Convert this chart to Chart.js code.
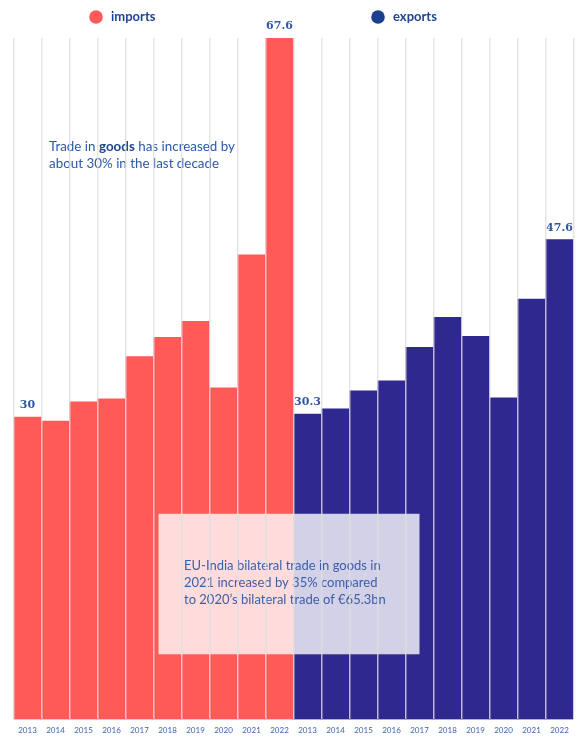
<!DOCTYPE html>
<html>
<head>
<meta charset="utf-8">
<script src="https://cdn.jsdelivr.net/npm/chart.js@4.4.1/dist/chart.umd.min.js"></script>
<style>
html,body{margin:0;padding:0;background:#fff;}
#wrap{width:581px;height:738px;position:relative;}
</style>
</head>
<body>
<div id="wrap"><canvas id="c" width="581" height="738"></canvas></div>
<script>
const years = ['2013','2014','2015','2016','2017','2018','2019','2020','2021','2022'];
const imports = [30, 29.6, 31.5, 31.8, 36.0, 37.9, 39.5, 32.9, 46.1, 67.6];
const exports = [30.3, 30.8, 32.6, 33.6, 36.9, 39.9, 38.0, 31.9, 41.7, 47.6];
const seriesNames = ['imports', 'exports'];
const note1 = [['Trade in ', false], ['goods', true], [' has increased by', false]];
const note1b = 'about 30% in the last decade';
const note2 = ['EU-India bilateral trade in goods in', '2021 increased by 35% compared', 'to 2020\u2019s bilateral trade of \u20ac65.3bn'];

const labels = years.concat(years);
const importsData = imports.concat(years.map(() => null));
const exportsData = years.map(() => null).concat(exports);

const RED = '#ff5a57';
const BLUE = '#2f288e';
const TXT = '#2d58a8';

const overlay = {
  id: 'overlay',
  afterDatasetsDraw(chart) {
    const ctx = chart.ctx;
    const x = chart.scales.x, y = chart.scales.y;
    ctx.save();
    ctx.font = 'bold 11px "DejaVu Serif"';
    ctx.fillStyle = TXT;
    ctx.textAlign = 'center';
    ctx.textBaseline = 'bottom';
    const lab = (di, idx, txt) => {
      const el = chart.getDatasetMeta(di).data[idx];
      ctx.fillText(txt, el.x, el.y - 6);
    };
    lab(0, 0, String(imports[0]));
    lab(0, 9, String(imports[9]));
    lab(1, 10, String(exports[0]));
    lab(1, 19, String(exports[9]));

    ctx.textAlign = 'left';
    ctx.textBaseline = 'middle';
    let nx = 49;
    const ny = y.getPixelForValue(56.86);
    note1.forEach(([t, b]) => {
      ctx.font = (b ? 'bold ' : '') + '13.4px Lato';
      ctx.fillStyle = b ? '#1d4594' : TXT;
      ctx.fillText(t, nx, ny);
      nx += ctx.measureText(t).width;
    });
    ctx.font = '13.4px Lato';
    ctx.fillStyle = TXT;
    ctx.fillText(note1b, 49, ny + 17);

    const bx0 = x.getPixelForValue(5) - 14 + 5;
    const bx1 = x.getPixelForValue(14) + 14 - 14;
    const by0 = y.getPixelForValue(20.4);
    const by1 = y.getPixelForValue(6.46);
    ctx.fillStyle = 'rgba(255,255,255,0.79)';
    ctx.fillRect(bx0, by0, bx1 - bx0, by1 - by0);
    ctx.font = '13px Lato';
    ctx.fillStyle = '#3a5ea8';
    note2.forEach((t, i) => ctx.fillText(t, 184, y.getPixelForValue(15.2) + i * 17));

    const leg = [[96, RED], [378, '#1d3f8f']];
    leg.forEach(([lx, col], i) => {
      ctx.beginPath();
      ctx.arc(lx, 17, 6.8, 0, Math.PI * 2);
      ctx.fillStyle = col;
      ctx.fill();
      ctx.font = 'bold 13px Lato';
      ctx.fillStyle = '#1d4594';
      ctx.fillText(seriesNames[i], lx + 15, 17);
    });
    ctx.restore();
  }
};

new Chart(document.getElementById('c'), {
  type: 'bar',
  data: {
    labels: labels,
    datasets: [
      { label: seriesNames[0], data: importsData, backgroundColor: RED, borderWidth: 0 },
      { label: seriesNames[1], data: exportsData, backgroundColor: BLUE, borderWidth: 0 }
    ]
  },
  options: {
    responsive: false,
    animation: false,
    skipNull: true,
    barPercentage: 1,
    categoryPercentage: 1,
    layout: { padding: { top: 38, left: 13.5, right: 7.5, bottom: -3 } },
    plugins: { legend: { display: false }, tooltip: { enabled: false } },
    scales: {
      x: {
        grid: { display: true, z: 1, color: 'rgba(222,222,222,0.8)', lineWidth: 1.5, drawTicks: false, offset: true },
        border: { display: false },
        ticks: { color: '#3a5fab', font: { size: 8, family: 'Lato' }, padding: 6, maxRotation: 0, autoSkip: false }
      },
      y: {
        display: false,
        min: 0,
        max: 67.6,
        grid: { display: false }
      }
    }
  },
  plugins: [overlay]
});
</script>
</body>
</html>
